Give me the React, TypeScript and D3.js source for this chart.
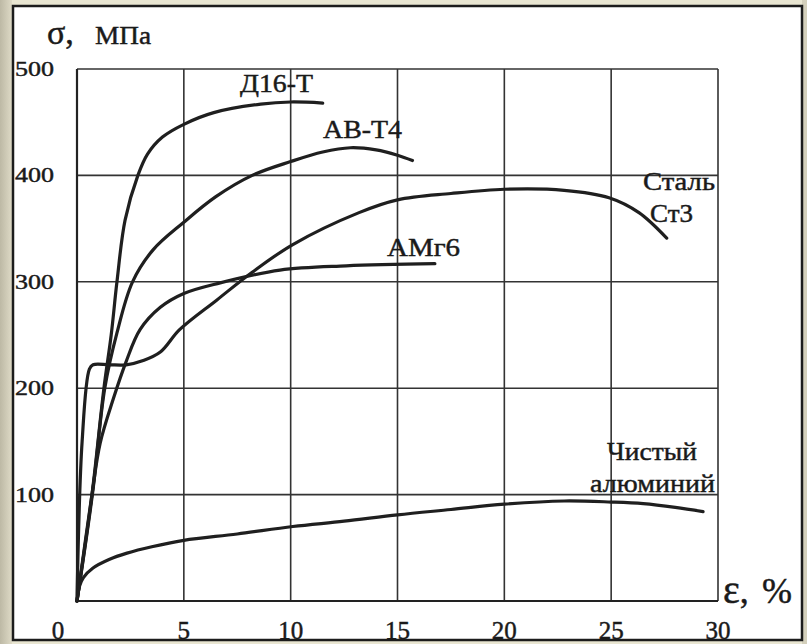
import React, { useRef, useEffect } from 'react'
import * as d3 from 'd3'

// strain, % / stress, MPa
const d16t = [
  [0, 0], [0.7, 100], [1.26, 200], [1.6, 250], [1.87, 300], [2.25, 358], [2.85, 400],
  [3.3, 420], [4, 436], [5, 448], [6.4, 459], [8.6, 467], [10, 469], [11.5, 468],
]
const avt4 = [
  [0, 0], [0.72, 100], [1.3, 200], [1.87, 252], [2.6, 300], [3.56, 330], [5, 356],
  [6.5, 380], [8.2, 400], [10, 413], [11.5, 422], [12.8, 426], [14, 424], [15, 419], [15.7, 414],
]
const amg6 = [
  [0, 0], [0.7, 100], [1.08, 148], [1.7, 190], [2.3, 225], [2.95, 255], [3.9, 276],
  [5, 289], [6.7, 299], [9.5, 311], [12.6, 315], [16.75, 317],
]
const st3 = [
  [0, 0], [0.24, 150], [0.58, 218], [0.75, 222], [1.5, 222], [2.3, 222], [3.1, 226],
  [3.9, 234], [4.8, 255], [6.55, 283], [8.2, 309], [10.1, 335], [13.2, 365], [15, 377],
  [17.5, 383], [20, 387], [22.8, 386], [24.9, 379], [26.3, 365], [27.6, 341],
]
const alum = [
  [0, 0], [0.12, 14], [0.3, 22], [0.75, 31], [1.5, 39], [2.34, 45], [3.5, 51], [5, 57],
  [7.5, 63], [10.1, 70], [12.5, 75], [15, 81], [17.5, 86], [20, 91], [22.8, 94],
  [25, 93], [26.5, 91.5], [28, 88], [29.3, 84],
]
const series = [d16t, avt4, amg6, st3, alum]

const xTicks = [0, 5, 10, 15, 20, 25, 30]
const yTicks = [100, 200, 300, 400, 500]

// label text, x, baseline, width
const curveLabels: [string, number, number, number][] = [
  ['Д16-Т', 240, 92, 73],
  ['АВ-Т4', 323, 138, 79],
  ['АМг6', 387, 256, 73],
  ['Сталь', 643, 190, 72],
  ['Ст3', 650, 222, 43],
  ['Чистый', 607, 460, 90],
  ['алюминий', 590, 492, 125],
]

export default function App() {
  const ref = useRef(null)
  const w = 807
  const h = 644

  useEffect(() => {
    document.body.style.margin = '0'
    const x = d3.scaleLinear().domain([0, 30]).range([77, 718])
    const y = d3.scaleLinear().domain([0, 500]).range([601, 69])
    const font = '"Liberation Serif", "DejaVu Serif", serif'

    d3.select(ref.current).selectAll('*').remove()
    const svg = d3.select(ref.current)
      .append('svg')
      .attr('width', w)
      .attr('height', h)
      .style('display', 'block')

    const defs = svg.append('defs')
    const grad = defs.append('linearGradient').attr('id', 'edge')
    grad.append('stop').attr('offset', '0%').attr('stop-color', '#bdb9a5')
    grad.append('stop').attr('offset', '100%').attr('stop-color', '#dedac6')

    svg.append('rect').attr('width', w).attr('height', h).attr('fill', '#e9e6d2')
    svg.append('rect').attr('width', 12).attr('height', h).attr('fill', 'url(#edge)')
    svg.append('rect').attr('x', 802).attr('width', 5).attr('height', h).attr('fill', '#d4d0bc')

    svg.append('rect')
      .attr('x', 13).attr('y', 6)
      .attr('width', 789).attr('height', 634)
      .attr('fill', '#fff')
      .attr('stroke', '#1c1c1c')
      .attr('stroke-width', 2.5)

    const grid = svg.append('g').attr('stroke', '#333').attr('stroke-width', 1.6)
    grid.selectAll('line.v')
      .data(xTicks)
      .enter()
      .append('line')
      .attr('x1', d => x(d)).attr('x2', d => x(d))
      .attr('y1', y(0)).attr('y2', y(500))
    grid.selectAll('line.h')
      .data([0, ...yTicks])
      .enter()
      .append('line')
      .attr('x1', x(0)).attr('x2', x(30))
      .attr('y1', d => y(d)).attr('y2', d => y(d))
    // axes a bit heavier
    svg.append('line').attr('x1', x(0)).attr('x2', x(30)).attr('y1', y(0)).attr('y2', y(0))
      .attr('stroke', '#222').attr('stroke-width', 2.2)
    svg.append('line').attr('x1', x(0)).attr('x2', x(0)).attr('y1', y(0)).attr('y2', y(500))
      .attr('stroke', '#222').attr('stroke-width', 2.2)

    const line = d3.line()
      .x(d => x(d[0]))
      .y(d => y(d[1]))
      .curve(d3.curveCatmullRom.alpha(0.5))

    svg.selectAll('path.curve')
      .data(series)
      .enter()
      .append('path')
      .attr('d', d => line(d as [number, number][]))
      .attr('fill', 'none')
      .attr('stroke', '#1f1f1f')
      .attr('stroke-width', 3.2)
      .attr('stroke-linejoin', 'round')
      .attr('stroke-linecap', 'round')

    const txt = svg.append('g')
      .attr('font-family', font)
      .attr('fill', '#1a1a1a')
      .attr('stroke', '#1a1a1a')
      .attr('stroke-width', 0.45)

    txt.selectAll('text.y')
      .data(yTicks)
      .enter()
      .append('text')
      .attr('x', 15)
      .attr('y', d => y(d) + 7)
      .attr('font-size', 21)
      .attr('textLength', 39)
      .attr('lengthAdjust', 'spacingAndGlyphs')
      .text(d => d)

    txt.selectAll('text.x')
      .data(xTicks)
      .enter()
      .append('text')
      .attr('x', d => (d === 0 ? 58 : x(d)))
      .attr('y', 639)
      .attr('font-size', 25)
      .attr('text-anchor', 'middle')
      .text(d => d)

    const sig = txt.append('g')
    sig.append('text').attr('x', 47).attr('y', 44).attr('font-size', 34).text('σ,')
    sig.append('text')
      .attr('x', 95).attr('y', 44)
      .attr('font-size', 25)
      .attr('textLength', 56)
      .attr('lengthAdjust', 'spacingAndGlyphs')
      .text('МПа')

    const eps = txt.append('text')
      .attr('x', 723).attr('y', 603)
      .attr('font-size', 36)
    eps.append('tspan').attr('font-size', 40).text('ε')
    eps.append('tspan').text(',')
    eps.append('tspan').attr('x', 762).text('%')

    txt.selectAll('text.lbl')
      .data(curveLabels)
      .enter()
      .append('text')
      .attr('x', d => d[1])
      .attr('y', d => d[2])
      .attr('font-size', 25)
      .attr('textLength', d => d[3])
      .attr('lengthAdjust', 'spacingAndGlyphs')
      .text(d => d[0])
  }, [])

  return (
    <div className="parent">
      <div ref={ref}></div>
    </div>
  )
}
